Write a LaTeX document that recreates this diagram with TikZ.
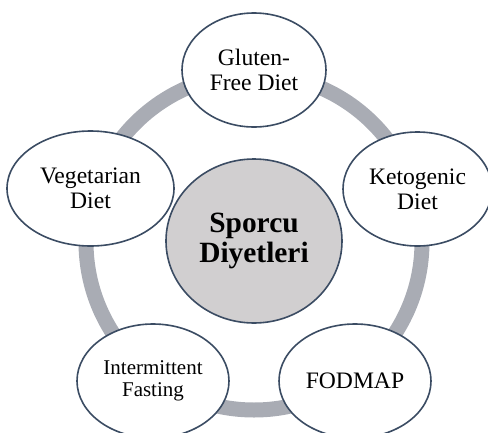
\documentclass[tikz,border=0pt]{standalone}
\usepackage{fontspec}
\setmainfont{Liberation Serif}
\usetikzlibrary{shapes.geometric}
\definecolor{ringgray}{HTML}{A9ACB4}
\definecolor{edgeblue}{HTML}{3B4C63}
\definecolor{centerfill}{HTML}{D1CFD0}
\tikzset{
  item/.style={ellipse, draw=edgeblue, line width=1.6pt, fill=white, inner sep=0pt,
    align=center, font=\fontsize{23.6}{25}\selectfont},
  hub/.style={ellipse, draw=edgeblue, line width=1.6pt, fill=centerfill, inner sep=0pt,
    align=center, font=\fontsize{29.4}{30}\selectfont\bfseries},
}
\begin{document}
\begin{tikzpicture}[x=1pt,y=-1pt]
\useasboundingbox (0,0) rectangle (488,432);
\coordinate (c) at (254,242);
\draw[ringgray, line width=15pt] (254,242) circle[radius=168];
\node[hub, minimum width=176pt, minimum height=164pt] (hub) at (254,241) {Sporcu\\Diyetleri};
\node[item, minimum width=144pt, minimum height=114pt] (gluten) at (254,70) {Gluten-\\Free Diet};
\node[item, minimum width=149pt, minimum height=114pt] (keto) at (417.5,189) {Ketogenic\\Diet};
\node[item, minimum width=167pt, minimum height=115pt] (veg) at (90.5,188.5) {Vegetarian\\Diet};
\node[item, minimum width=152pt, minimum height=114pt, font=\fontsize{21}{21.5}\selectfont] (fast) at (153,381) {Intermittent\\Fasting};
\node[item, minimum width=152pt, minimum height=114pt] (fod) at (355,381) {FODMAP};
\end{tikzpicture}
\end{document}
